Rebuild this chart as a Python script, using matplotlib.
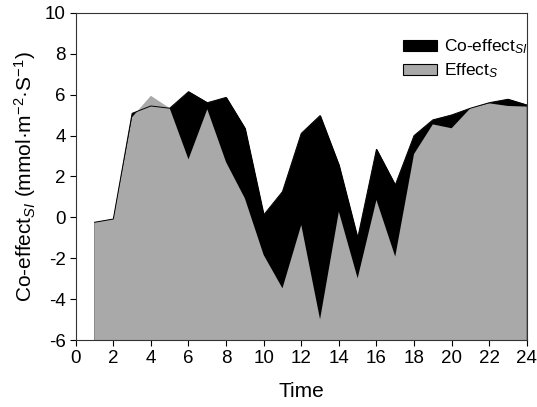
import matplotlib
matplotlib.use('Agg')
import matplotlib.pyplot as plt

plt.rcParams['font.family'] = ['Liberation Sans', 'DejaVu Sans']
plt.rcParams['mathtext.fontset'] = 'custom'
plt.rcParams['mathtext.rm'] = 'Liberation Sans'
plt.rcParams['mathtext.it'] = 'Liberation Sans:italic'
plt.rcParams['axes.unicode_minus'] = False

# data
time = list(range(1, 25))
co_effect_si = [-0.24, -0.08, 5.09, 5.45, 5.34, 6.15, 5.61, 5.87, 4.36, 0.12,
                1.26, 4.11, 4.98, 2.56, -1.02, 3.33, 1.58, 4.0, 4.77, 5.01,
                5.34, 5.61, 5.78, 5.5]
effect_s = [-0.24, -0.08, 4.9, 5.95, 5.34, 2.84, 5.29, 2.7, 0.93, -1.84,
            -3.47, -0.37, -4.99, 0.28, -2.98, 0.85, -1.92, 3.1, 4.55, 4.36,
            5.34, 5.58, 5.45, 5.42]

fig = plt.figure(figsize=(5.37, 4.07), dpi=100)
ax = fig.add_axes([0.141, 0.1646, 0.840, 0.8035])

ax.fill_between(time, -6, co_effect_si, color='black', linewidth=0.8,
                edgecolor='black', label='Co-effect$_{SI}$')
ax.fill_between(time, -6, effect_s, facecolor='#a9a9a9', linewidth=0,
                label='Effect$_S$')
# outline of the co-effect series stays visible over the grey area
ax.plot(time, co_effect_si, color='black', linewidth=0.7)

ax.set_xlim(0, 24)
ax.set_ylim(-6, 10)
ax.set_xticks(range(0, 25, 2))
ax.set_yticks(range(-6, 11, 2))
ax.tick_params(direction='out', length=4, width=0.8, labelsize=13.5,
               colors='black', top=False, right=False, pad=3)
for s in ax.spines.values():
    s.set_linewidth(0.8)
    s.set_color('#333333')

ax.set_xlabel('Time', fontsize=15, labelpad=11)
ax.set_ylabel('Co-effect$_{SI}$ (mmol·m$^{-2}$·S$^{-1}$)', fontsize=15,
              labelpad=5)

leg = ax.legend(loc='upper left', bbox_to_anchor=(0.725, 0.925), frameon=False,
                fontsize=12.5, handlelength=2.0, handleheight=0.6,
                handletextpad=0.4, labelspacing=0.3, borderpad=0,
                borderaxespad=0)
for h in leg.legend_handles:
    h.set_edgecolor('black')
    h.set_linewidth(0.8)

fig.savefig('out.png', dpi=100)
